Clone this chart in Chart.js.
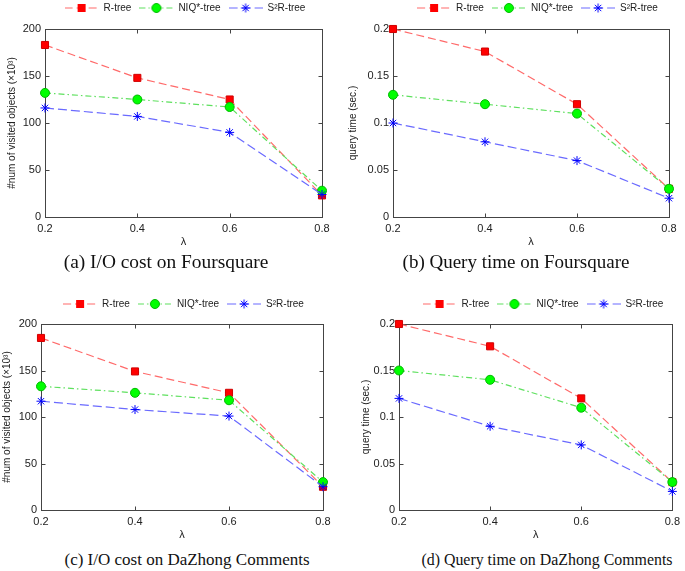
<!DOCTYPE html>
<html>
<head>
<meta charset="utf-8">
<script src="https://cdn.jsdelivr.net/npm/chart.js@4.4.1/dist/chart.umd.min.js"></script>
<style>
  body { margin: 0; background: #fff; width: 685px; height: 571px; position: relative; overflow: hidden; }
  .panel { position: absolute; }
  .cap { position: absolute; font-family: "Liberation Serif", "Times New Roman", serif; color: #111; white-space: nowrap; transform: translate(-50%, -50%); }
  #dbg { position: absolute; left: 0; top: 272px; width: 685px; font: 9px monospace; color: #c00; }
</style>
</head>
<body>
<div class="panel" style="left:0;top:0;width:340px;height:252px"><canvas id="chartA"></canvas></div>
<div class="panel" style="left:340px;top:0;width:345px;height:252px"><canvas id="chartB"></canvas></div>
<div class="panel" style="left:0;top:285px;width:340px;height:260px"><canvas id="chartC"></canvas></div>
<div class="panel" style="left:340px;top:285px;width:345px;height:260px"><canvas id="chartD"></canvas></div>
<div class="cap" style="left:166px;top:262px;font-size:19.4px">(a) I/O cost on Foursquare</div>
<div class="cap" style="left:516px;top:262px;font-size:19px">(b) Query time on Foursquare</div>
<div class="cap" style="left:187px;top:560px;font-size:17px">(c) I/O cost on DaZhong Comments</div>
<div class="cap" style="left:547px;top:560px;font-size:15.9px">(d) Query time on DaZhong Comments</div>
<div id="dbg"></div>
<script>
const log = s => { document.getElementById("dbg").textContent += " | " + s; };
window.onerror = (m) => log("onerror " + m);

// x values (lambda)
const lambdas = [0.2, 0.4, 0.6, 0.8];
const seriesNames = ["R-tree", "NIQ*-tree", "S\u00B2R-tree"];

// (a) I/O cost on Foursquare (x10^3 visited objects)
const ioFourRtree = [183, 148, 125, 23];
const ioFourNiq = [132, 125, 117, 28];
const ioFourS2r = [116, 107, 90, 24];

// (b) query time on Foursquare (sec.)
const timeFourRtree = [0.2, 0.176, 0.12, 0.03];
const timeFourNiq = [0.13, 0.12, 0.11, 0.03];
const timeFourS2r = [0.1, 0.08, 0.06, 0.02];

// (c) I/O cost on DaZhong Comments
const ioDzRtree = [185, 149, 126, 25];
const ioDzNiq = [133, 126, 118, 30];
const ioDzS2r = [117, 108, 101, 25];

// (d) query time on DaZhong Comments
const timeDzRtree = [0.2, 0.176, 0.12, 0.03];
const timeDzNiq = [0.15, 0.14, 0.11, 0.03];
const timeDzS2r = [0.12, 0.09, 0.07, 0.02];

const ioTicks = [0, 50, 100, 150, 200];
const timeTicks = [0, 0.05, 0.1, 0.15, 0.2];

const styles = [
  { line: "#ff6a6a", point: "#ff0000", pointBorder: "#d00000", shape: "rect", radius: 5, dash: [8, 4] },
  { line: "#5ee05e", point: "#00ff00", pointBorder: "#00b800", shape: "circle", radius: 4.5, dash: [6, 3, 1.5, 3] },
  { line: "#6a6aff", point: "#0000ff", pointBorder: "#0000ff", shape: "star", radius: 4.5, dash: [9, 4] }
];

// legend sample: dashed line with the marker in the middle
function sample(st) {
  const c = document.createElement("canvas");
  c.width = 34; c.height = 12;
  const g = c.getContext("2d");
  g.strokeStyle = st.line; g.lineWidth = 1.2; g.setLineDash(st.dash);
  g.beginPath(); g.moveTo(0, 6); g.lineTo(34, 6); g.stroke();
  g.setLineDash([]);
  g.fillStyle = st.point; g.strokeStyle = st.pointBorder; g.lineWidth = 1;
  if (st.shape === "rect") {
    g.fillRect(13, 2, 8, 8);
  } else if (st.shape === "circle") {
    g.beginPath(); g.arc(17, 6, 4.5, 0, Math.PI * 2); g.fill(); g.stroke();
  } else {
    g.beginPath();
    for (let a = 0; a < 4; a++) {
      const t = a * Math.PI / 4;
      g.moveTo(17 - 4.5 * Math.cos(t), 6 - 4.5 * Math.sin(t));
      g.lineTo(17 + 4.5 * Math.cos(t), 6 + 4.5 * Math.sin(t));
    }
    g.stroke();
  }
  return c;
}

function drawFrame(chart) {
  const ctx = chart.ctx;
  const a = chart.chartArea;
  const xs = chart.scales.x, ys = chart.scales.y;
  const L = Math.round(a.left) + 0.5, R = Math.round(a.right) + 0.5;
  const T = Math.round(a.top) + 0.5, B = Math.round(a.bottom) + 0.5;
  ctx.save();
  ctx.setLineDash([]);
  ctx.globalAlpha = 1;
  ctx.strokeStyle = "#444"; ctx.lineWidth = 1;
  ctx.strokeRect(L, T, R - L, B - T);
  ctx.beginPath();
  lambdas.forEach(v => {
    const px = Math.round(xs.getPixelForValue(v)) + 0.5;
    ctx.moveTo(px, B); ctx.lineTo(px, B - 4);
    ctx.moveTo(px, T); ctx.lineTo(px, T + 4);
  });
  ys.ticks.forEach(t => {
    const py = Math.round(ys.getPixelForValue(t.value)) + 0.5;
    ctx.moveTo(L, py); ctx.lineTo(L + 4, py);
    ctx.moveTo(R, py); ctx.lineTo(R - 4, py);
  });
  ctx.stroke();
  ctx.restore();
}

// MATLAB style box with inward ticks, plus legend nudge
const framePlugin = {
  id: "matlabFrame",
  afterLayout(chart) {
    const o = chart.config.options.legendShift || { dx: 0, dy: 0 };
    const lg = chart.legend;
    if (lg) {
      lg.left += o.dx; lg.right += o.dx;
      lg.top += o.dy; lg.bottom += o.dy;
    }
  },
  beforeDatasetsDraw(chart) {
    try { drawFrame(chart); } catch (e) { log("frame " + e.message); }
  }
};

function makePanel(id, series, yTicks, yTitle, lay) {
  const datasets = series.map((vals, i) => {
    const st = styles[i];
    return {
      label: seriesNames[i],
      data: lambdas.map((x, j) => ({ x: x, y: vals[j] })),
      borderColor: st.line,
      borderWidth: 1.2,
      borderDash: st.dash,
      backgroundColor: st.point,
      pointStyle: st.shape,
      pointRadius: st.radius,
      pointBackgroundColor: st.point,
      pointBorderColor: st.pointBorder,
      pointBorderWidth: 1,
      tension: 0,
      fill: false,
      clip: false,
      order: i === 0 ? 2 : (i === 1 ? 1 : 0)
    };
  });
  const yMax = yTicks[yTicks.length - 1];
  const tickFont = { family: "Liberation Sans, Arial, sans-serif", size: 11 };
  try {
  new Chart(document.getElementById(id), {
    type: "line",
    data: { datasets: datasets },
    options: {
      responsive: true,
      maintainAspectRatio: false,
      animation: false,
      legendShift: { dx: lay.dx, dy: lay.dy },
      layout: { padding: { top: lay.top, right: lay.right, bottom: 0, left: 0 } },
      plugins: {
        tooltip: { enabled: false },
        legend: {
          position: "top",
          labels: {
            usePointStyle: true,
            pointStyleWidth: 34,
            padding: 8,
            color: "#222",
            font: { family: "Liberation Sans, Arial, sans-serif", size: 10 },
            generateLabels(chart) {
              return chart.data.datasets.map((ds, i) => ({
                text: ds.label,
                pointStyle: sample(styles[i]),
                fillStyle: "transparent",
                strokeStyle: "transparent",
                lineWidth: 0,
                fontColor: "#222",
                hidden: false,
                datasetIndex: i
              }));
            }
          }
        }
      },
      scales: {
        x: {
          type: "linear",
          min: 0.2, max: 0.8,
          afterBuildTicks(s) { s.ticks = lambdas.map(v => ({ value: v })); },
          afterFit(s) { s.height = 35; },
          grid: { display: false, drawTicks: false },
          border: { display: false },
          ticks: {
            padding: 5,
            color: "#222",
            font: tickFont,
            callback: v => v.toFixed(1)
          },
          title: {
            display: true, text: "\u03BB", color: "#222", padding: { top: 0, bottom: 3 },
            font: { family: "Liberation Sans, Arial, sans-serif", size: 11 }
          }
        },
        y: {
          min: 0, max: yMax,
          afterBuildTicks(s) { s.ticks = yTicks.map(v => ({ value: v })); },
          afterFit(s) { s.width = lay.yWidth; },
          grid: { display: false, drawTicks: false },
          border: { display: false },
          ticks: {
            padding: 4,
            color: "#222",
            font: tickFont,
            callback: v => String(v)
          },
          title: {
            display: true, text: yTitle, color: "#222", padding: { top: lay.titlePad, bottom: 0 },
            font: { family: "Liberation Sans, Arial, sans-serif", size: 10 }
          }
        }
      }
    },
    plugins: [framePlugin]
  });
  } catch (e) { log(id + " " + e.message + " " + (e.stack || "").split("\n").slice(0, 3).join(" ")); }
}

makePanel("chartA", [ioFourRtree, ioFourNiq, ioFourS2r], ioTicks, "#num of visited objects (\u00D710\u00B3)",
  { top: 1, right: 18, yWidth: 45, dx: 24, dy: -6, titlePad: 6 });
makePanel("chartB", [timeFourRtree, timeFourNiq, timeFourS2r], timeTicks, "query time (sec.)",
  { top: 1, right: 16, yWidth: 53, dx: 33, dy: -6, titlePad: 7 });
makePanel("chartC", [ioDzRtree, ioDzNiq, ioDzS2r], ioTicks, "#num of visited objects (\u00D710\u00B3)",
  { top: 11, right: 17, yWidth: 41, dx: 22, dy: -5, titlePad: 1 });
makePanel("chartD", [timeDzRtree, timeDzNiq, timeDzS2r], timeTicks, "query time (sec.)",
  { top: 11, right: 7, yWidth: 59, dx: 34, dy: -5, titlePad: 20 });
</script>
</body>
</html>
